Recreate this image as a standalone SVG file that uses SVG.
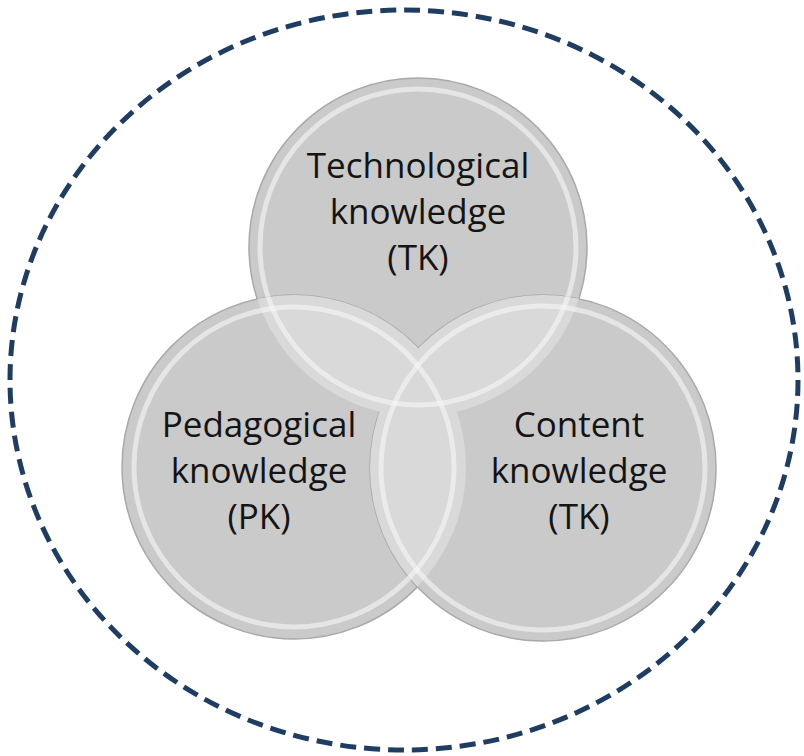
<svg xmlns="http://www.w3.org/2000/svg" width="804" height="756" viewBox="0 0 804 756">
  <style>
    .fill { fill: #cacaca; stroke: #a9a9a9; stroke-width: 1.5; }
    .ov { fill: #d9d9d9; }
    .rim { fill: none; stroke: #f6f6f6; stroke-width: 5; opacity: 0.6; }
    .lbl { font-family: "Open Sans", "Liberation Sans", sans-serif; font-size: 35px; fill: #141414; text-anchor: middle; }
    .boundary { fill: none; stroke: #1f3d62; stroke-width: 5; stroke-dasharray: 16 8; }
  </style>
  <defs>
    <clipPath id="cTop"><circle cx="418" cy="247" r="169"/></clipPath>
    <clipPath id="cLeft"><circle cx="294" cy="467" r="172"/></clipPath>
  </defs>
  <rect width="804" height="756" fill="#ffffff"/>
  <g id="boundary">
    <ellipse class="boundary" cx="404" cy="380" rx="394" ry="370"/>
  </g>
  <g id="fills">
    <circle class="fill" cx="418" cy="247" r="169"/>
    <circle class="fill" cx="294" cy="467" r="172"/>
    <circle class="fill" cx="543" cy="468" r="173"/>
  </g>
  <g id="overlaps">
    <circle class="ov" cx="294" cy="467" r="172" clip-path="url(#cTop)"/>
    <circle class="ov" cx="543" cy="468" r="173" clip-path="url(#cTop)"/>
    <circle class="ov" cx="543" cy="468" r="173" clip-path="url(#cLeft)"/>
  </g>
  <g id="connectors"></g>
  <g id="node-tk">
    <circle class="rim" cx="418" cy="247" r="158"/>
    <text class="lbl" x="418" y="178">Technological</text>
    <text class="lbl" x="418" y="224">knowledge</text>
    <text class="lbl" x="418" y="270">(TK)</text>
  </g>
  <g id="node-pk">
    <circle class="rim" cx="294" cy="467" r="160"/>
    <text class="lbl" x="259" y="437">Pedagogical</text>
    <text class="lbl" x="259" y="483">knowledge</text>
    <text class="lbl" x="259" y="529">(PK)</text>
  </g>
  <g id="node-ck">
    <circle class="rim" cx="543" cy="468" r="162"/>
    <text class="lbl" x="579" y="437">Content</text>
    <text class="lbl" x="579" y="483">knowledge</text>
    <text class="lbl" x="579" y="529">(TK)</text>
  </g>
</svg>
